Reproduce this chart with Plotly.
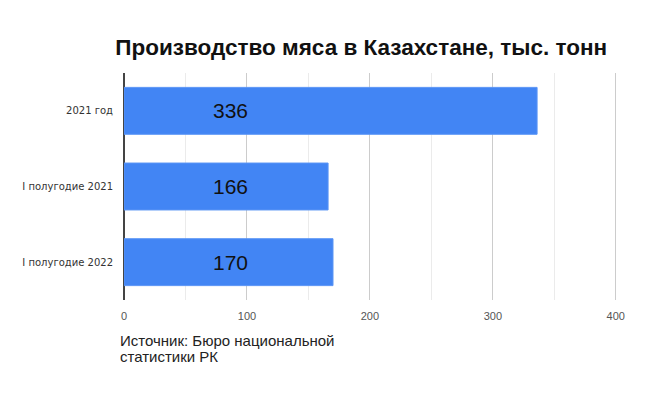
import plotly.graph_objects as go

categories = ["2021 год", "I полугодие 2021", "I полугодие 2022"]
values = [336, 166, 170]
x_ticks = [0, 100, 200, 300, 400]
source_lines = ["Источник: Бюро национальной", "статистики РК"]

LABEL_X = 87  # labels sit at a fixed spot inside the bars, like the original

# page body has an 8px margin, so the figure is 8px smaller than the window
fig = go.Figure()
fig.add_trace(go.Bar(
    x=values,
    y=categories,
    orientation="h",
    marker=dict(color="#4285f4", line=dict(color="#5a95f5", width=1)),
    hoverinfo="x+y",
))

annotations = [
    dict(x=LABEL_X, y=cat, text=str(val), showarrow=False,
         font=dict(family="Liberation Sans, Arial", size=21, color="#111111"),
         xanchor="center", yanchor="middle")
    for cat, val in zip(categories, values)
]

# source note, one annotation per line to keep the tight line spacing
for i, line in enumerate(source_lines):
    annotations.append(dict(
        text=line, xref="paper", yref="paper", x=-0.012, y=-0.13 - i * 0.073,
        xanchor="left", yanchor="top", align="left", showarrow=False,
        font=dict(family="Liberation Sans, Arial", size=15, color="#222222"),
    ))

fig.update_layout(
    width=640, height=412,
    paper_bgcolor="white", plot_bgcolor="white",
    margin=dict(l=116, r=31, t=65, b=120),
    showlegend=False,
    bargap=0.38,
    title=dict(text="<b>Производство мяса в Казахстане, тыс. тонн</b>",
               font=dict(family="Liberation Sans, Arial", size=22.5, color="#111111"),
               x=0.552, xanchor="center", y=0.905, yanchor="middle"),
    xaxis=dict(range=[0, 401], tickvals=x_ticks,
               ticks="outside", ticklen=6, tickcolor="rgba(0,0,0,0)",
               tickfont=dict(family="Liberation Sans, Arial", size=11, color="#555555"),
               showgrid=True, gridcolor="#cccccc", gridwidth=1,
               minor=dict(dtick=50, tick0=0, showgrid=True, gridcolor="#ebebeb", gridwidth=1),
               zeroline=True, zerolinecolor="#444444", zerolinewidth=1.5,
               showline=False, automargin=False, fixedrange=True),
    yaxis=dict(categoryorder="array", categoryarray=categories, autorange="reversed",
               tickfont=dict(family="DejaVu Sans, sans-serif", size=10, color="#333333"),
               ticks="outside", ticklen=8, tickcolor="rgba(0,0,0,0)",
               showgrid=False, showline=False, automargin=False, fixedrange=True),
    annotations=annotations,
)

fig.write_html("out.html")
